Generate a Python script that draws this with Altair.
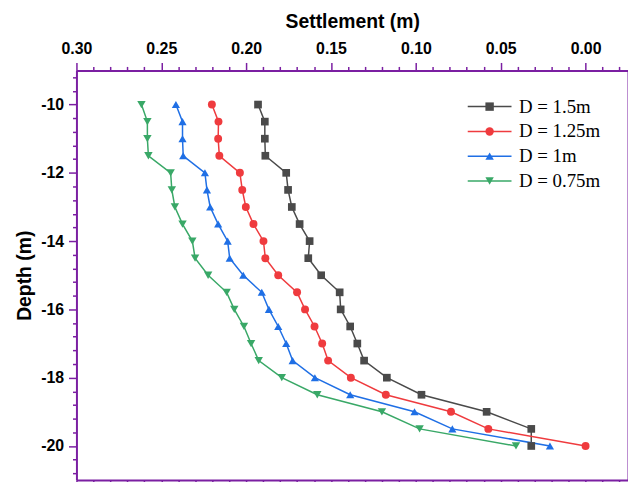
import altair as alt
import pandas as pd

depth = [-10.0, -10.5, -11.0, -11.5, -12.0, -12.5, -13.0, -13.5, -14.0, -14.5, -15.0,
         -15.5, -16.0, -16.5, -17.0, -17.5, -18.0, -18.5, -19.0, -19.5, -20.0]
s_150 = [0.193, 0.189, 0.189, 0.1887, 0.1764, 0.1753, 0.1731, 0.1685, 0.1626, 0.1634, 0.1558,
         0.1449, 0.1443, 0.1387, 0.1345, 0.1305, 0.1171, 0.0967, 0.0583, 0.0320, 0.0320]
s_125 = [0.2202, 0.2163, 0.2165, 0.2158, 0.2037, 0.2023, 0.2002, 0.1957, 0.1898, 0.1887, 0.1811,
         0.1700, 0.1653, 0.1597, 0.1552, 0.1517, 0.1383, 0.1177, 0.0793, 0.0573, 0.0000]
s_100 = [0.2414, 0.2375, 0.2375, 0.2371, 0.2243, 0.2231, 0.2212, 0.2165, 0.2109, 0.2097, 0.2017,
         0.1908, 0.1866, 0.1811, 0.1764, 0.1726, 0.1595, 0.1387, 0.1008, 0.0785, 0.0210]
s_075 = [0.2617, 0.2582, 0.2582, 0.2576, 0.2445, 0.2438, 0.2420, 0.2375, 0.2317, 0.2301, 0.2224,
         0.2115, 0.2070, 0.2013, 0.1971, 0.1926, 0.1790, 0.1581, 0.1200, 0.0978, 0.0410]

series_names = ["D = 1.5m", "D = 1.25m", "D = 1m", "D = 0.75m"]
series_vals = [s_150, s_125, s_100, s_075]
colors = ["#4a4a4a", "#ef3b3e", "#1f6fe5", "#39a867"]
shapes = ["square", "circle", "triangle-up", "triangle-down"]
marker_sizes = [60, 72, 110, 110]

x_ticks = [round(0.30 - 0.01 * i, 2) for i in range(33)]
y_ticks = [round(-20.8 + 0.4 * i, 1) for i in range(30)]

rows = []
for name, vals in zip(series_names, series_vals):
    for i, (d, s) in enumerate(zip(depth, vals)):
        rows.append({"series": name, "depth": d, "settlement": s, "idx": i})
df = pd.DataFrame(rows)

PURPLE = "#7b1fa2"
x_scale = alt.Scale(domain=[0.30, -0.025], nice=False, zero=False)
y_scale = alt.Scale(domain=[-21, -9], nice=False, zero=False)
color_scale = alt.Scale(domain=series_names, range=colors)

x_major = "abs(round(datum.value*100)) % 5 == 0"
y_major = "round(datum.value*10) % 20 == 0"

common_axis = dict(
    domainColor=PURPLE, domainWidth=2, tickColor=PURPLE, tickWidth=1.5,
    grid=False, labelOverlap=False, labelFlush=False,
    labelFont="Liberation Sans", labelFontWeight="bold", labelFontSize=16,
    labelColor="black", titleFont="Liberation Sans", titleFontWeight="bold",
    titleColor="black",
)

x_top = alt.Axis(orient="top", values=x_ticks, title="Settlement (m)",
                 labelExpr=f"{x_major} ? format(datum.value, '.2f') : ''",
                 tickSize={"condition": {"test": x_major, "value": 8}, "value": 4},
                 labelPadding=6, titleFontSize=19.5, titlePadding=9, **common_axis)
y_left = alt.Axis(orient="left", values=y_ticks, title="Depth (m)",
                  labelExpr=f"{y_major} ? ('' + datum.value) : ''",
                  tickSize={"condition": {"test": y_major, "value": 8}, "value": 4},
                  labelPadding=5, titleFontSize=19.5, titlePadding=6, **common_axis)
x_bot = alt.Axis(orient="bottom", values=x_ticks, title=None, labels=False,
                 tickSize={"condition": {"test": x_major, "value": 8}, "value": 4},
                 **common_axis)
y_right = alt.Axis(orient="right", values=y_ticks, title=None, labels=False,
                   tickSize={"condition": {"test": y_major, "value": 8}, "value": 4},
                   **common_axis)

legend_common = dict(
    title=None, orient="none", legendX=407, legendY=27,
    labelFont="Liberation Serif", labelFontSize=19, labelColor="black",
    symbolSize=72, symbolStrokeWidth=1.5, symbolOpacity=1,
    labelOffset=20, rowPadding=5, labelLimit=300,
)

line_legend = alt.Legend(symbolType="M-5.2,0H5.2", **legend_common)
point_legend = alt.Legend(labelOpacity=0, **legend_common)

base = alt.Chart(df)

lines = base.mark_line(strokeWidth=1.5).encode(
    x=alt.X("settlement:Q", scale=x_scale, axis=x_top),
    y=alt.Y("depth:Q", scale=y_scale, axis=y_left),
    color=alt.Color("series:N", scale=color_scale, legend=line_legend),
    order=alt.Order("idx:Q"),
)

points = base.mark_point(filled=True, opacity=1).encode(
    x=alt.X("settlement:Q", scale=x_scale, axis=x_bot),
    y=alt.Y("depth:Q", scale=y_scale, axis=y_right),
    color=alt.Color("series:N", scale=color_scale, legend=point_legend),
    shape=alt.Shape("series:N", scale=alt.Scale(domain=series_names, range=shapes),
                    legend=point_legend),
    size=alt.Size("series:N", scale=alt.Scale(domain=series_names, range=marker_sizes),
                  legend=None),
)

chart = alt.layer(lines, points).resolve_axis(
    x="independent", y="independent"
).resolve_legend(
    color="independent", shape="independent"
).properties(
    width=556, height=413, autosize="none",
    padding={"left": 69, "top": 61, "right": 0, "bottom": 0},
).configure_view(stroke=None).configure(background="white")

chart.save("out.html", embed_options={"renderer": "svg", "actions": False})
